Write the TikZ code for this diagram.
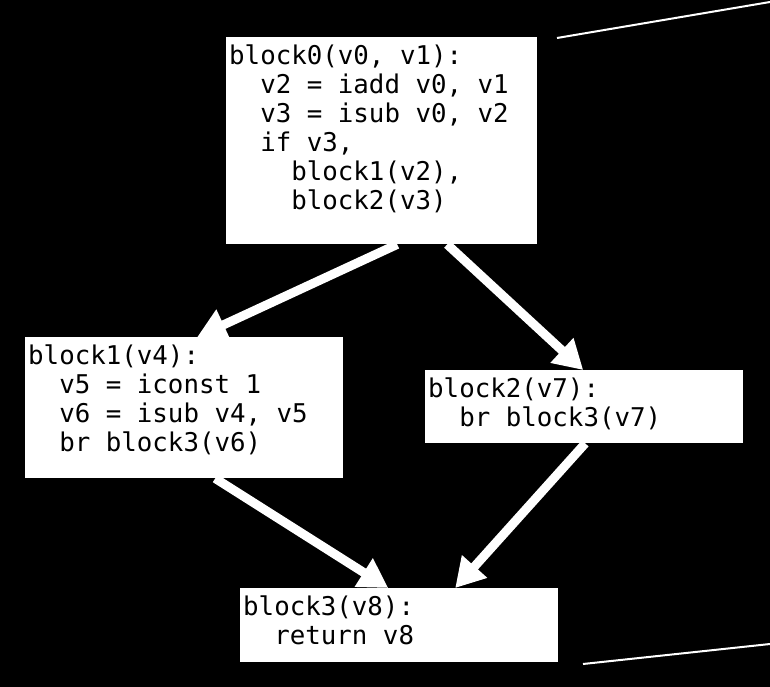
\documentclass[tikz,border=0pt]{standalone}
\usepackage{fontspec}
\setmonofont{DejaVu Sans Mono}
\usetikzlibrary{arrows.meta}

\tikzset{
  blk/.style={fill=white, draw=none, anchor=north west, inner sep=0pt},
  code/.style={anchor=north west, inner sep=0pt, align=left, text=black,
    font=\ttfamily\fontsize{25.8}{29}\selectfont},
  flow/.style={draw=white, line width=9pt, -{Triangle[length=29pt,width=32pt]}},
  zoomline/.style={draw=white, line width=2pt}
}

\begin{document}
\begin{tikzpicture}[x=1pt, y=-1pt]
\fill[black] (0,0) rectangle (770,687);
\useasboundingbox (0,0) rectangle (770,687);

% basic blocks
\node[blk, minimum width=311pt, minimum height=207pt] (b0) at (226,37) {};
\node[blk, minimum width=318pt, minimum height=141pt] (b1) at (25,337) {};
\node[blk, minimum width=318pt, minimum height=73pt] (b2) at (425,370) {};
\node[blk, minimum width=318pt, minimum height=74pt] (b3) at (240,588) {};

% control flow edges
\draw[flow] ([shift={(15.5,0)}]b0.south) -- ([shift={(13,0)}]b1.north);
\draw[flow] ([shift={(65.5,0)}]b0.south) -- ([shift={(-1,0)}]b2.north);
\draw[flow] ([shift={(31,0)}]b1.south) -- ([shift={(-11,0)}]b3.north);
\draw[flow] ([shift={(1,0)}]b2.south) -- ([shift={(56,0)}]b3.north);

% block contents
\node[code] (t0) at ([shift={(3,7.4)}]b0.north west) {block0(v0, v1):\\
~~v2 = iadd v0, v1\\
~~v3 = isub v0, v2\\
~~if v3,\\
~~~~block1(v2),\\
~~~~block2(v3)};
\node[code] (t1) at ([shift={(3,7.4)}]b1.north west) {block1(v4):\\
~~v5 = iconst 1\\
~~v6 = isub v4, v5\\
~~br block3(v6)};
\node[code] (t2) at ([shift={(3,7.4)}]b2.north west) {block2(v7):\\
~~br block3(v7)};
\node[code] (t3) at ([shift={(3,7.4)}]b3.north west) {block3(v8):\\
~~return v8};

% zoom lines
\coordinate (zt0) at (557,38);
\coordinate (zt1) at (770,2);
\coordinate (zb0) at (583,664);
\coordinate (zb1) at (770,644);
\draw[zoomline] (zt0) -- (zt1);
\draw[zoomline] (zb0) -- (zb1);
\end{tikzpicture}
\end{document}
